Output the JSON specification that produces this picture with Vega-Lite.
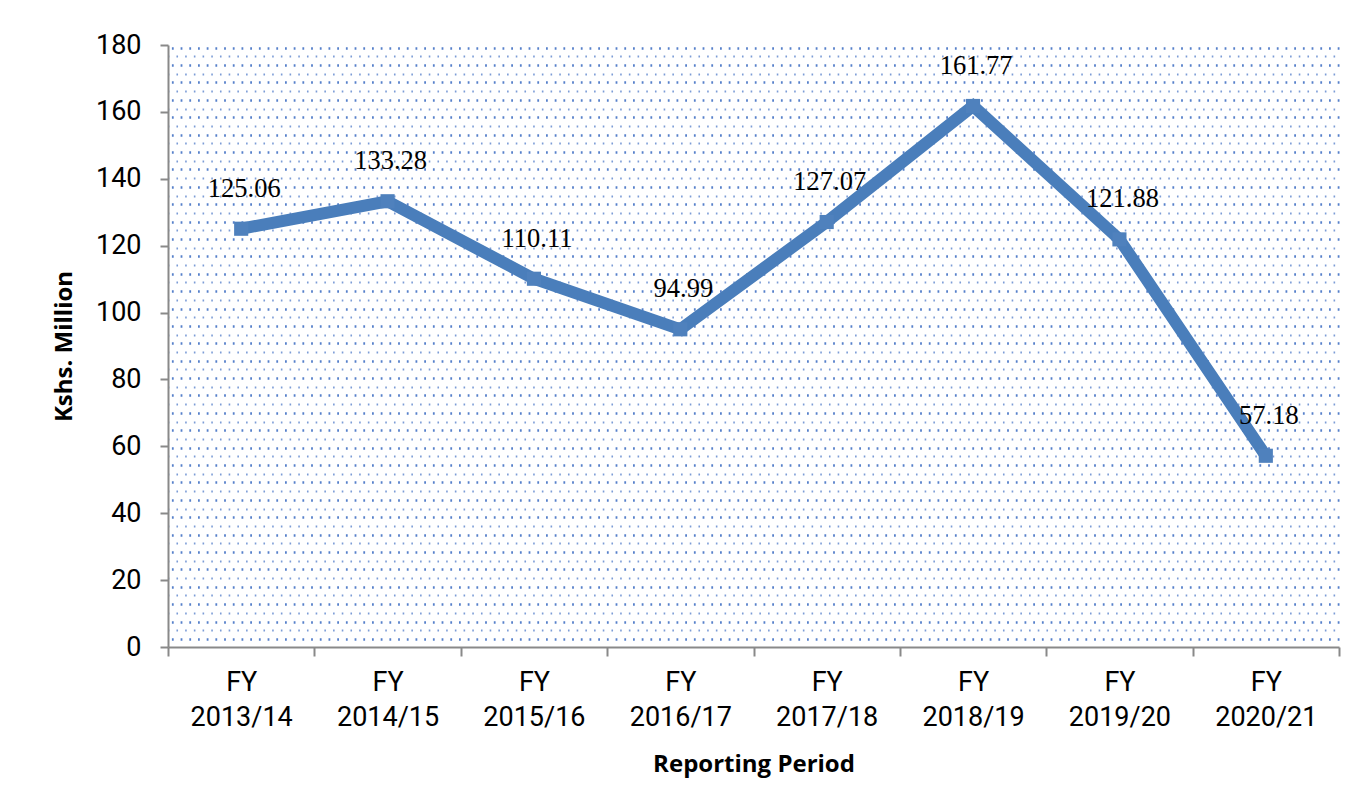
{
  "$schema": "https://vega.github.io/schema/vega-lite/v6.json",
  "width": 1171,
  "height": 602,
  "autosize": {"type": "none"},
  "padding": {"left": 168, "top": 45, "right": 21, "bottom": 160},
  "background": "white",
  "config": {"view": {"stroke": null}},
  "data": {"values": [
    {"period": "FY 2013/14", "value": 125.06},
    {"period": "FY 2014/15", "value": 133.28},
    {"period": "FY 2015/16", "value": 110.11},
    {"period": "FY 2016/17", "value": 94.99},
    {"period": "FY 2017/18", "value": 127.07},
    {"period": "FY 2018/19", "value": 161.77},
    {"period": "FY 2019/20", "value": 121.88},
    {"period": "FY 2020/21", "value": 57.18}
  ]},
  "layer": [
    {
      "mark": {"type": "point", "opacity": 0},
      "encoding": {
        "y": {"field": "value", "type": "quantitative", "scale": {"domain": [0, 180], "nice": false, "zero": true},
          "axis": {"orient": "right", "title": null, "labels": false, "ticks": false, "domain": false, "grid": true,
            "gridColor": "#4472C4", "gridOpacity": 0.9, "gridWidth": 2.4, "gridDash": [1.8, 6.9],
            "values": [2.4,7.6,12.8,18.0,23.2,28.4,33.6,38.8,44.0,49.2,54.4,59.6,64.8,70.0,75.2,80.4,85.6,90.8,96.0,101.2,106.4,111.6,116.8,122.0,127.2,132.4,137.6,142.8,148.0,153.2,158.4,163.6,168.8,174.0,179.2]}}
      }
    },
    {
      "mark": {"type": "point", "opacity": 0},
      "encoding": {
        "y": {"field": "value", "type": "quantitative", "scale": {"domain": [0, 180], "nice": false, "zero": true},
          "axis": {"orient": "right", "title": null, "labels": false, "ticks": false, "domain": false, "grid": true,
            "gridColor": "#4472C4", "gridOpacity": 0.7, "gridWidth": 2, "gridDash": [1.6, 7.1], "gridDashOffset": 4.35,
            "values": [5.0,10.2,15.4,20.6,25.8,31.0,36.2,41.4,46.6,51.8,57.0,62.2,67.4,72.6,77.8,83.0,88.2,93.4,98.6,103.8,109.0,114.2,119.4,124.6,129.8,135.0,140.2,145.4,150.6,155.8,161.0,166.2,171.4,176.6]}}
      }
    },
    {
      "encoding": {
        "x": {"field": "period", "type": "nominal", "sort": null, "bandPosition": 0.5,
          "scale": {"type": "band", "paddingInner": 0, "paddingOuter": 0},
          "axis": {"title": "Reporting Period", "labelAngle": 0, "tickBand": "extent",
            "labelExpr": "split(datum.label, ' ')", "labelFont": "Roboto", "labelFontSize": 27, "labelColor": "#000000",
            "labelLineHeight": 35, "labelPadding": 13, "labelBaseline": "top",
            "domainColor": "#898989", "domainWidth": 2, "tickColor": "#898989", "tickWidth": 2, "tickSize": 9,
            "titleFont": "Open Sans", "titleFontWeight": "bold", "titleFontSize": 24, "titleColor": "#000000", "titlePadding": 22}},
        "y": {"field": "value", "type": "quantitative", "scale": {"domain": [0, 180], "nice": false, "zero": true},
          "axis": {"title": "Kshs. Million", "values": [0,20,40,60,80,100,120,140,160,180], "grid": false,
            "labelFont": "Roboto", "labelFontSize": 27, "labelColor": "#000000", "labelPadding": 19,
            "domainColor": "#898989", "domainWidth": 2, "tickColor": "#898989", "tickWidth": 2, "tickSize": 8,
            "titleFont": "Open Sans", "titleFontWeight": "bold", "titleFontSize": 24, "titleColor": "#000000", "titlePadding": 19}}
      },
      "layer": [
        {"mark": {"type": "line", "color": "#4A7EBB", "strokeWidth": 12, "strokeJoin": "miter", "strokeCap": "butt"}},
        {"mark": {"type": "point", "shape": "square", "filled": true, "size": 200, "color": "#4F81BD", "opacity": 1}},
        {"mark": {"type": "text", "font": "Liberation Serif", "fontSize": 26.5, "color": "#000000", "baseline": "alphabetic", "dy": -32, "dx": 3},
          "encoding": {"text": {"field": "value", "type": "quantitative", "format": ".2f"}}}
      ]
    }
  ],
  "resolve": {"scale": {"y": "independent"}}
}
